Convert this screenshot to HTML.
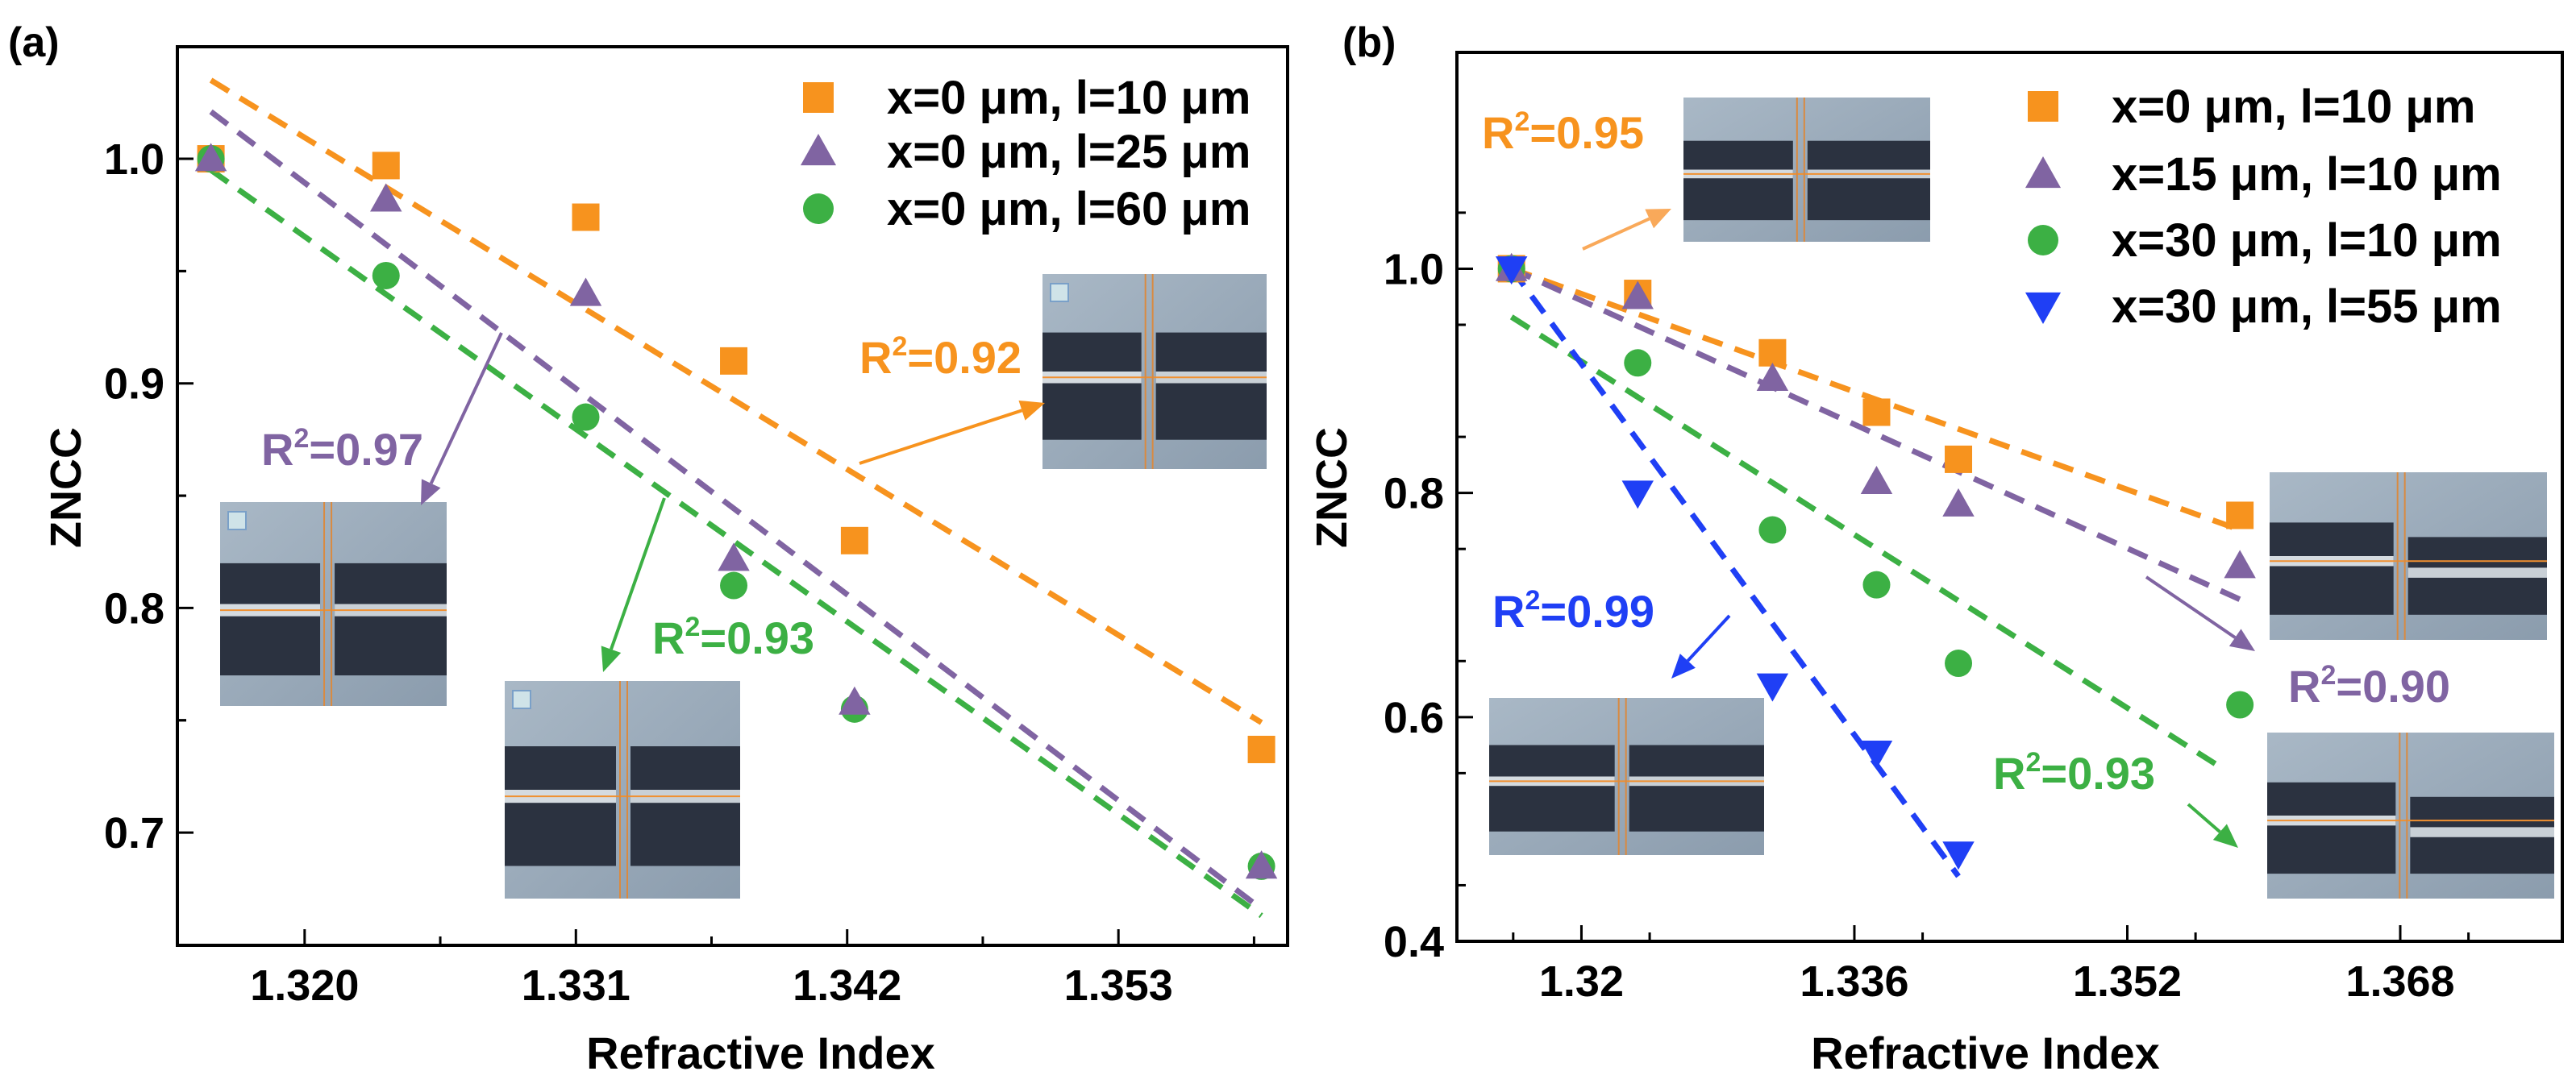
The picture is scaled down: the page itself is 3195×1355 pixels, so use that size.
<!DOCTYPE html>
<html><head><meta charset="utf-8"><style>
html,body{margin:0;padding:0;background:#fff;overflow:hidden;}
svg{display:block;font-family:"Liberation Sans",Arial,sans-serif;font-weight:bold;}
</style></head><body>
<svg id="fig" width="3195" height="1355" viewBox="0 0 3195 1355" xmlns="http://www.w3.org/2000/svg">
<defs>
<linearGradient id="gbg" x1="0" y1="0" x2="1" y2="1"><stop offset="0" stop-color="#a9b8c6"/><stop offset="1" stop-color="#8b9cad"/></linearGradient>
</defs>
<g id="root"></g>
</svg>
<script>
// ---------- Panel (a) data ----------
const aX = [1.3162, 1.3233, 1.3314, 1.3374, 1.3423, 1.3588];
const aOrange = [1.000, 0.997, 0.974, 0.910, 0.830, 0.737];
const aPurple = [1.000, 0.982, 0.940, 0.822, 0.758, 0.685];
const aGreen  = [1.000, 0.948, 0.885, 0.810, 0.755, 0.685];
const aFitX = [1.3162, 1.3588];
const aFitOrange = [1.035, 0.749];
const aFitPurple = [1.021, 0.666];
const aFitGreen  = [0.995, 0.663];
const aXTicks = [1.320, 1.331, 1.342, 1.353];
const aXTickLabels = ["1.320","1.331","1.342","1.353"];
const aYTicks = [0.7, 0.8, 0.9, 1.0];
const aYTickLabels = ["0.7","0.8","0.9","1.0"];
// ---------- Panel (b) data ----------
const bX = [1.3159, 1.3233, 1.3312, 1.3373, 1.3421, 1.3586];
const bOrange = [1.000, 0.978, 0.925, 0.872, 0.830, 0.780];
const bPurple = [1.000, 0.975, 0.902, 0.810, 0.790, 0.735];
const bGreen  = [1.000, 0.916, 0.767, 0.718, 0.648, 0.611];
const bBlueX = [1.3159, 1.3233, 1.3312, 1.3373, 1.3421];
const bBlue  = [1.000, 0.800, 0.628, 0.568, 0.478];
const bFitOrangeX = [1.3159, 1.3586]; const bFitOrange = [1.000, 0.767];
const bFitPurpleX = [1.3159, 1.3586]; const bFitPurple = [1.000, 0.705];
const bFitGreenX  = [1.3159, 1.3575]; const bFitGreen  = [0.957, 0.555];
const bFitBlueX   = [1.3159, 1.3421]; const bFitBlue   = [1.000, 0.458];
const bXTicks = [1.320, 1.336, 1.352, 1.368];
const bXTickLabels = ["1.32","1.336","1.352","1.368"];
const bYTicks = [0.4, 0.6, 0.8, 1.0];
const bYTickLabels = ["0.4","0.6","0.8","1.0"];

const NS = "http://www.w3.org/2000/svg";
const root = document.getElementById('root');
function el(tag, attrs, parent, text){
  const e = document.createElementNS(NS, tag);
  for (const k in attrs) e.setAttribute(k, attrs[k]);
  if (text !== undefined) e.textContent = text;
  (parent || root).appendChild(e);
  return e;
}
const OR="#f7931e", PU="#8064a2", GR="#3cb044", BL="#1f3ff5";

function makeScale(d0,d1,r0,r1){ return v => r0 + (v-d0)/(d1-d0)*(r1-r0); }

function panel(cfg){
  const g = el('g', {});
  
  
  const X = makeScale(cfg.xd[0], cfg.xd[1], cfg.L, cfg.R);
  const Y = makeScale(cfg.yd[0], cfg.yd[1], cfg.B, cfg.T);
  cfg.xTicks.forEach((t,i)=>{
    const x = X(t);
    const tk = el('line',{x1:x,x2:x,y1:cfg.B,y2:cfg.B-20,stroke:'#000','stroke-width':3},g);
     
    const lb = el('text',{x:x,y:cfg.B+68,'text-anchor':'middle','font-size':54},g,cfg.xLabels[i]);
     
    const mx = X(t + cfg.xStep/2);
    if (mx < cfg.R - 4) {
      const m = el('line',{x1:mx,x2:mx,y1:cfg.B,y2:cfg.B-11,stroke:'#000','stroke-width':3},g);
       
    }
    const mx0 = X(t - cfg.xStep/2);
    if (i===0 && mx0 > cfg.L + 4) {
      const m = el('line',{x1:mx0,x2:mx0,y1:cfg.B,y2:cfg.B-11,stroke:'#000','stroke-width':3},g);
       
    }
  });
  cfg.yTicks.forEach((t,i)=>{
    const y = Y(t);
    const tk = el('line',{x1:cfg.L,x2:cfg.L+20,y1:y,y2:y,stroke:'#000','stroke-width':3},g);
     
    const lb = el('text',{x:cfg.L-16,y:y+19,'text-anchor':'end','font-size':54},g,cfg.yLabels[i]);
     
    [t+cfg.yStep/2, t-cfg.yStep/2].forEach(mv=>{
      const my = Y(mv);
      if (my > cfg.T+4 && my < cfg.B-4) {
        const m = el('line',{x1:cfg.L,x2:cfg.L+11,y1:my,y2:my,stroke:'#000','stroke-width':3},g);
         
      }
    });
  });
  const fr = el('rect',{x:cfg.L,y:cfg.T,width:cfg.R-cfg.L,height:cfg.B-cfg.T,fill:'none',stroke:'#000','stroke-width':4},g);
   
  const xt = el('text',{x:(cfg.L+cfg.R)/2+cfg.xtOff,y:1326,'text-anchor':'middle','font-size':56},g,'Refractive Index');
   
  const yt = el('text',{x:0,y:0,'text-anchor':'middle','font-size':54,transform:`translate(${cfg.ytx},${cfg.yty}) rotate(-90)`},g,'ZNCC');
   
  const pl = el('text',{x:cfg.plx,y:70,'font-size':52},g,cfg.plabel);
   
  return {g,X,Y};
}

function inset(x,y,w,h,name,variant){
  const g = el('g',{});
  
  
  el('rect',{x,y,width:w,height:h,fill:'url(#gbg)'},g);
  const mid = x + w*(variant.split||0.45);
  const d = variant.drop||0;
  el('rect',{x:x,y:y+h*0.3,width:mid-x-8,height:h*0.55,fill:'#2b3240'},g);
  el('rect',{x:mid+10,y:y+h*0.3+d,width:x+w-mid-10,height:h*0.55-d,fill:'#2b3240'},g);
  el('rect',{x:x,y:y+h*0.5,width:mid-x-8,height:h*0.06,fill:'#d5dbe0'},g);
  el('rect',{x:mid+10,y:y+h*0.5+d*0.8,width:x+w-mid-10,height:h*0.06,fill:'#c9d0d6'},g);
  el('line',{x1:x,x2:x+w,y1:y+h*0.53,y2:y+h*0.53,stroke:'#f09030','stroke-width':2},g);
  el('line',{x1:mid-3,x2:mid-3,y1:y,y2:y+h,stroke:'#d98a40','stroke-width':2},g);
  el('line',{x1:mid+6,x2:mid+6,y1:y,y2:y+h,stroke:'#d98a40','stroke-width':2},g);
  if (variant.box) { el('rect',{x:x+10,y:y+12,width:22,height:22,fill:'#cfe3e8',stroke:'#7aa0c8','stroke-width':2},g); }
}

function line(p, xs, ys, color, name){
  const l = el('line',{x1:p.X(xs[0]),y1:p.Y(ys[0]),x2:p.X(xs[1]),y2:p.Y(ys[1]),stroke:color,'stroke-width':7,'stroke-dasharray':'26 16'},p.g);
   
}
function marker(parent, type, cx, cy, color, s){
  let m;
  if (type==='sq') m = el('rect',{x:cx-s/2,y:cy-s/2,width:s,height:s,fill:color},parent);
  else if (type==='ci') m = el('circle',{cx,cy,r:s/2,fill:color},parent);
  else if (type==='tu') m = el('polygon',{points:`${cx},${cy-s*0.58} ${cx-s*0.58},${cy+s*0.45} ${cx+s*0.58},${cy+s*0.45}`,fill:color},parent);
  else m = el('polygon',{points:`${cx},${cy+s*0.58} ${cx-s*0.58},${cy-s*0.45} ${cx+s*0.58},${cy-s*0.45}`,fill:color},parent);
  return m;
}
function points(p, xs, ys, type, color, name){
  xs.forEach((x,i)=>{
    const m = marker(p.g, type, p.X(x), p.Y(ys[i]), color, 34);
     
  });
}
function arrow(x1,y1,x2,y2,color,name){
  const g = el('g',{});
   
  const a = Math.atan2(y2-y1,x2-x1), L=30, W=13;
  const bx = x2 - L*Math.cos(a), by = y2 - L*Math.sin(a);
  el('line',{x1,y1,x2:bx,y2:by,stroke:color,'stroke-width':4},g);
  el('polygon',{points:`${x2},${y2} ${bx+W*Math.sin(a)},${by-W*Math.cos(a)} ${bx-W*Math.sin(a)},${by+W*Math.cos(a)}`,fill:color},g);
}
function r2(x,y,color,val,name){
  const t = el('text',{x,y,'font-size':56,fill:color},root);
   
  const s1 = document.createElementNS(NS,'tspan'); s1.textContent='R'; t.appendChild(s1);
  const s2 = document.createElementNS(NS,'tspan'); s2.setAttribute('dy','-22'); s2.setAttribute('font-size','34'); s2.textContent='2'; t.appendChild(s2);
  const s3 = document.createElementNS(NS,'tspan'); s3.setAttribute('dy','22'); s3.textContent='='+val; t.appendChild(s3);
}
function legend(x, y, type, color, label, name){
  const g = el('g',{});
   
  marker(g, type, x, y, color, 38);
  el('text',{x:x+85,y:y+20,'font-size':58},g,label);
}

// ---------- Panel a ----------
const pa = panel({name:'panel-a', xd:[1.31484,1.35986], yd:[0.6498,1.0499], L:220,R:1597,T:58,B:1173,
  xTicks:aXTicks, xLabels:aXTickLabels, xStep:0.011, yTicks:aYTicks, yLabels:aYTickLabels, yStep:0.1,
  xtOff:35, ytx:100, yty:605, plx:10, plabel:'(a)'});
inset(1293,340,278,242,'inset-a-orange',{split:0.47,box:true});
inset(273,623,281,253,'inset-a-purple',{split:0.47,box:true});
inset(626,845,292,270,'inset-a-green',{split:0.5,box:true});
line(pa, aFitX, aFitOrange, OR, 'fit-line-a-orange');
line(pa, aFitX, aFitPurple, PU, 'fit-line-a-purple');
line(pa, aFitX, aFitGreen, GR, 'fit-line-a-green');
points(pa, aX, aOrange, 'sq', OR, 'point-a-l10');
points(pa, aX, aGreen, 'ci', GR, 'point-a-l60');
points(pa, aX, aPurple, 'tu', PU, 'point-a-l25');
legend(1015,121,'sq',OR,'x=0 μm, l=10 μm','legend-entry-a-l10');
legend(1015,188,'tu',PU,'x=0 μm, l=25 μm','legend-entry-a-l25');
legend(1015,259,'ci',GR,'x=0 μm, l=60 μm','legend-entry-a-l60');
r2(1066,463,OR,'0.92','r2-label-a-orange');
r2(324,577,PU,'0.97','r2-label-a-purple');
r2(809,811,GR,'0.93','r2-label-a-green');
arrow(622,413,522,627,PU,'arrow-a-purple');
arrow(824,618,748,834,GR,'arrow-a-green');
arrow(1066,575,1296,500,OR,'arrow-a-orange');

// ---------- Panel b ----------
const pb = panel({name:'panel-b', xd:[1.3127,1.3775], yd:[0.4,1.193], L:1807,R:3178,T:65,B:1168,
  xTicks:bXTicks, xLabels:bXTickLabels, xStep:0.008, yTicks:bYTicks, yLabels:bYTickLabels, yStep:0.1,
  xtOff:-30, ytx:1670, yty:605, plx:1665, plabel:'(b)'});
inset(2088,121,306,179,'inset-b-orange',{split:0.47});
inset(1847,866,341,195,'inset-b-blue',{split:0.48});
inset(2815,586,344,208,'inset-b-purple',{split:0.47,drop:18});
inset(2812,909,356,206,'inset-b-green',{split:0.47,drop:18});
line(pb, bFitOrangeX, bFitOrange, OR, 'fit-line-b-orange');
line(pb, bFitPurpleX, bFitPurple, PU, 'fit-line-b-purple');
line(pb, bFitGreenX, bFitGreen, GR, 'fit-line-b-green');
line(pb, bFitBlueX, bFitBlue, BL, 'fit-line-b-blue');
points(pb, bX, bOrange, 'sq', OR, 'point-b-x0');
points(pb, bX, bGreen, 'ci', GR, 'point-b-x30-l10');
points(pb, bX, bPurple, 'tu', PU, 'point-b-x15');
points(pb, bBlueX, bBlue, 'td', BL, 'point-b-x30-l55');
legend(2534,132,'sq',OR,'x=0 μm, l=10 μm','legend-entry-b-x0');
legend(2534,216,'tu',PU,'x=15 μm, l=10 μm','legend-entry-b-x15');
legend(2534,298,'ci',GR,'x=30 μm, l=10 μm','legend-entry-b-x30-l10');
legend(2534,380,'td',BL,'x=30 μm, l=55 μm','legend-entry-b-x30-l55');
r2(1838,184,OR,'0.95','r2-label-b-orange');
r2(1851,778,BL,'0.99','r2-label-b-blue');
r2(2838,871,PU,'0.90','r2-label-b-purple');
r2(2472,979,GR,'0.93','r2-label-b-green');
arrow(1963,309,2073,259,'#f9a95a','arrow-b-orange');
arrow(2145,764,2073,842,BL,'arrow-b-blue');
arrow(2662,716,2797,808,PU,'arrow-b-purple');
arrow(2714,998,2776,1052,GR,'arrow-b-green');
</script>
</body></html>
